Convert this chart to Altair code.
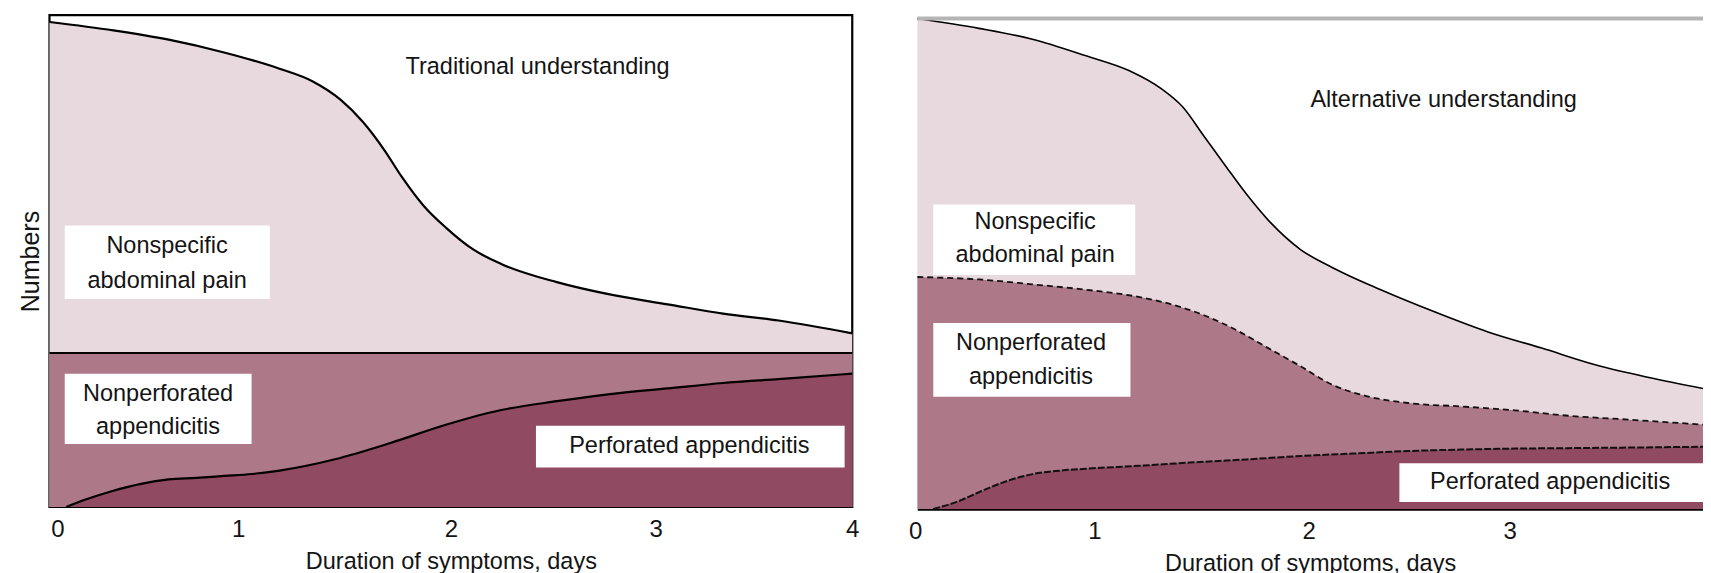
import altair as alt
import pandas as pd

# ---------------- data ----------------
# Left panel: "Traditional understanding"
trad_top_x = [0, 0.318, 0.594, 0.870, 1.146, 1.312, 1.450, 1.561, 1.671, 1.754, 1.865,
              1.975, 2.113, 2.251, 2.528, 2.804, 3.080, 3.356, 3.633, 4.0]
trad_nonspecific = [98.6, 96.9, 95.0, 92.4, 89.1, 86.5, 82.8, 78.3, 72.4, 67.2, 61.2,
                    56.8, 52.3, 49.4, 45.7, 43.1, 41.2, 39.3, 37.9, 35.3]
trad_mid_x = [0, 4]
trad_nonperforated = [31.3, 31.3]
trad_perf_x = [0.083, 0.18, 0.318, 0.456, 0.594, 0.732, 0.870, 1.008, 1.146, 1.423,
               1.699, 1.975, 2.251, 2.528, 2.804, 3.080, 3.356, 3.633, 4.0]
trad_perforated = [0, 1.5, 3.3, 4.7, 5.6, 5.9, 6.3, 6.7, 7.4, 9.7,
                   13.0, 16.7, 19.7, 21.5, 23.0, 24.1, 25.2, 26.0, 27.1]

# Right panel: "Alternative understanding"
alt_top_x = [0, 0.311, 0.581, 0.852, 1.068, 1.231, 1.339, 1.447, 1.555, 1.663, 1.771,
             1.934, 2.096, 2.339, 2.610, 2.880, 3.151, 3.421, 3.692, 4.0]
alt_nonspecific = [100, 98.0, 95.8, 92.4, 89.4, 85.7, 82.0, 76.0, 70.0, 64.1, 58.9,
                   52.9, 49.2, 44.7, 40.2, 36.1, 32.8, 29.4, 26.8, 24.3]
alt_mid_x = [0, 0.311, 0.581, 0.852, 1.122, 1.285, 1.447, 1.609, 1.771, 1.934, 2.096,
             2.258, 2.475, 2.745, 3.016, 3.286, 3.556, 4.0]
alt_nonperforated = [47.3, 46.8, 45.8, 44.7, 43.2, 41.7, 39.5, 36.5, 32.8, 29.1, 25.3,
                     23.1, 21.6, 20.9, 20.1, 19.0, 18.3, 17.1]
alt_perf_x = [0.081, 0.203, 0.311, 0.446, 0.581, 0.717, 0.852, 1.122, 1.393, 1.663,
              1.934, 2.204, 2.475, 2.745, 3.016, 3.286, 3.556, 4.0]
alt_perforated = [0, 1.5, 3.4, 5.6, 7.1, 7.8, 8.2, 8.8, 9.5, 10.1,
                  10.8, 11.3, 11.8, 12.1, 12.3, 12.4, 12.5, 12.7]

tick_values = [0, 1, 2, 3, 4]
x_title = "Duration of symptoms, days"
y_title = "Numbers"
panel_titles = ["Traditional understanding", "Alternative understanding"]
label_lines = ["Nonspecific", "abdominal pain", "Nonperforated", "appendicitis",
               "Perforated appendicitis"]

# ---------------- styling ----------------
FONT = "Liberation Sans, Arial, sans-serif"
LIGHT = "#E8D9DF"
MID = "#AD7888"
DARK = "#904A61"
INK = "#141414"
FS = 23.5

# annotation placement (data coordinates)
trad_boxes = pd.DataFrame({
    "x": [0.076, 0.076, 2.424], "x2": [1.098, 1.007, 3.962],
    "y": [42.3, 12.8, 8.0], "y2": [57.2, 27.1, 16.5]})
trad_text = pd.DataFrame({
    "x": [0.586, 0.586, 0.541, 0.541, 3.188, 2.432],
    "y": [53.1, 46.0, 23.0, 16.3, 12.4, 89.5],
    "text": label_lines + [panel_titles[0]]})
alt_boxes = pd.DataFrame({
    "x": [0.081, 0.081, 2.433], "x2": [1.100, 1.076, 3.973],
    "y": [47.7, 22.9, 1.4], "y2": [62.1, 37.9, 9.3]})
alt_text = pd.DataFrame({
    "x": [0.595, 0.595, 0.574, 0.574, 3.194, 2.656],
    "y": [58.5, 51.8, 33.9, 26.9, 5.4, 83.3],
    "text": label_lines + [panel_titles[1]]})

left_label_shift = {"condition": [{"test": "datum.value == 0", "value": 8},
                                  {"test": "datum.value == 1", "value": -12},
                                  {"test": "datum.value == 3", "value": 4}],
                    "value": 0}
right_label_shift = {"condition": [{"test": "datum.value == 1", "value": -21},
                                   {"test": "datum.value == 2", "value": -5}],
                     "value": -2}

# the right panel is cut by the picture's right edge just before day 4
RIGHT_XMAX = 3.965


def xy(xs, ys):
    return pd.DataFrame({"x": xs, "y": ys})


def xaxis(domain, shift, values):
    return alt.Axis(values=values, format="d", ticks=False, grid=False,
                    domain=domain, domainColor="#000", domainWidth=2.5,
                    labelFont=FONT, labelFontSize=24, labelColor=INK,
                    labelPadding=11, labelFlush=False, labelAngle=0,
                    labelOffset=shift,
                    title=x_title, titleFont=FONT, titleFontSize=FS,
                    titleFontWeight="normal", titleColor=INK, titlePadding=8)


def build_panel(top, mid, perf, boxes, texts, xdom, ydom, yax, domain, dashed, lw,
                shift, values, clip):
    xs = alt.Scale(domain=xdom, nice=False, zero=False)
    ys = alt.Scale(domain=ydom, nice=False, zero=False)
    X = alt.X("x:Q", scale=xs, axis=xaxis(domain, shift, values))
    Y = alt.Y("y:Q", scale=ys, axis=yax)
    layers = [
        alt.Chart(top).mark_area(color=LIGHT, interpolate="monotone", clip=clip).encode(x=X, y=Y),
        alt.Chart(mid).mark_area(color=MID, interpolate="monotone", clip=clip).encode(x=X, y=Y),
        alt.Chart(perf).mark_area(color=DARK, interpolate="monotone", clip=clip).encode(x=X, y=Y),
        alt.Chart(top).mark_line(color="#000", strokeWidth=lw, clip=clip,
                                 interpolate="monotone").encode(x=X, y=Y),
    ]
    if dashed:
        layers.append(alt.Chart(mid).mark_line(color="#111", strokeWidth=1.8,
                                               strokeDash=[6, 4], clip=clip,
                                               interpolate="monotone").encode(x=X, y=Y))
        layers.append(alt.Chart(perf).mark_line(color="#111", strokeWidth=2,
                                                strokeDash=[7, 2], clip=clip,
                                                interpolate="monotone").encode(x=X, y=Y))
    else:
        layers.append(alt.Chart(mid).mark_line(color="#000", strokeWidth=lw,
                                               clip=clip).encode(x=X, y=Y))
        layers.append(alt.Chart(perf).mark_line(color="#000", strokeWidth=lw, clip=clip,
                                                interpolate="monotone").encode(x=X, y=Y))
    layers.append(alt.Chart(boxes).mark_rect(fill="white", clip=clip).encode(
        x=X, x2="x2:Q", y=Y, y2="y2:Q"))
    layers.append(alt.Chart(texts).mark_text(font=FONT, fontSize=FS, color=INK,
                                             align="center", baseline="middle").encode(
        x=X, y=Y, text="text:N"))
    return layers


left_layers = build_panel(
    xy(trad_top_x, trad_nonspecific), xy(trad_mid_x, trad_nonperforated),
    xy(trad_perf_x, trad_perforated), trad_boxes, trad_text, [0, 4], [0, 100],
    alt.Axis(labels=False, ticks=False, domain=False, grid=False, title=y_title,
             titleFont=FONT, titleFontSize=25, titleFontWeight="normal",
             titleColor=INK, titlePadding=6),
    False, False, 2.2, left_label_shift, tick_values, False)
left = alt.layer(*left_layers).properties(
    width=803, height=492,
    view=alt.ViewBackground(stroke="#000", strokeWidth=2.2))

right_ticks = [v for v in tick_values if v <= RIGHT_XMAX]
right_layers = build_panel(
    xy(alt_top_x, alt_nonspecific), xy(alt_mid_x, alt_nonperforated),
    xy(alt_perf_x, alt_perforated), alt_boxes, alt_text, [0, RIGHT_XMAX], [0, 100.71],
    None, True, True, 1.6, right_label_shift, right_ticks, True)
frame = pd.DataFrame({"x": [0, 0], "y": [0, 100], "x2": [4, 0], "y2": [100, 100]})
xs_r = alt.Scale(domain=[0, RIGHT_XMAX], nice=False, zero=False)
ys_r = alt.Scale(domain=[0, 100.71], nice=False, zero=False)
right_frame = [
    alt.Chart(frame.iloc[[0]]).mark_rule(color="#b5b5b5", strokeWidth=4, clip=True).encode(
        x=alt.X("x:Q", scale=xs_r, axis=xaxis(True, right_label_shift, right_ticks)),
        x2="x2:Q", y=alt.Y("y2:Q", scale=ys_r, axis=None)),
    alt.Chart(frame.iloc[[1]]).mark_rule(color="#9a9a9a", strokeWidth=2.5).encode(
        x=alt.X("x:Q", scale=xs_r, axis=xaxis(True, right_label_shift, right_ticks)),
        y=alt.Y("y:Q", scale=ys_r, axis=None), y2="y2:Q"),
]
right = alt.layer(*(right_layers + right_frame)).properties(width=786, height=494)

chart = alt.hconcat(left, right, spacing=65, bounds="flush").properties(
    padding={"left": 8.5, "top": 5, "right": 0, "bottom": 0},
    background="white",
).configure_view(strokeWidth=0)

chart.save("out.html", embed_options={"renderer": "svg", "actions": False})
